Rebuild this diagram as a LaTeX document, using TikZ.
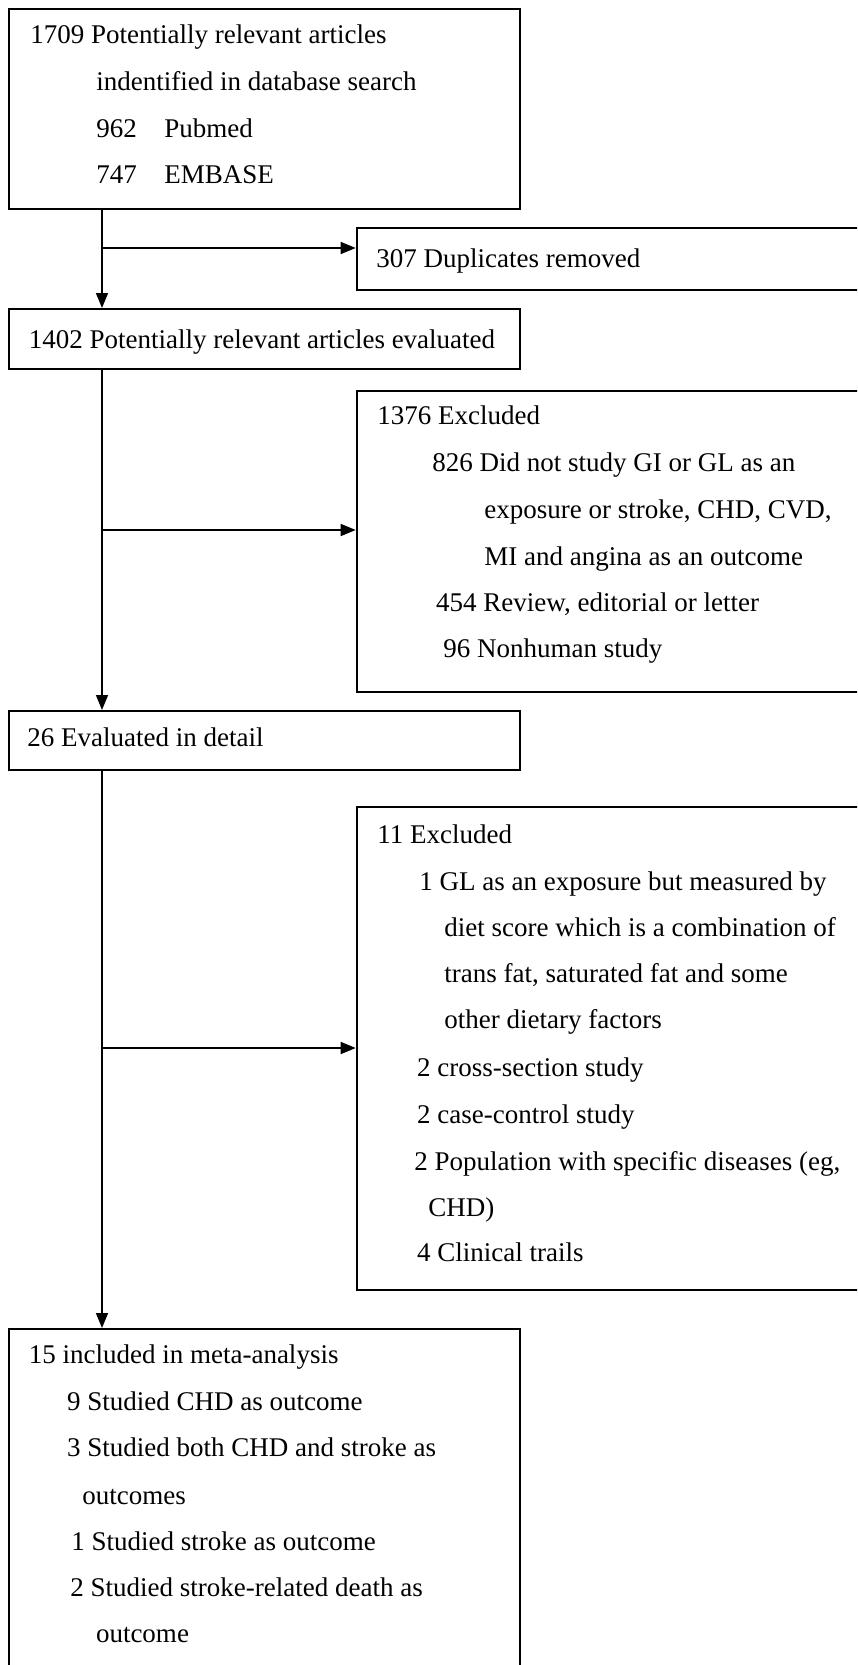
\documentclass[tikz,border=0pt]{standalone}
\usepackage{fontspec}
\setmainfont{Liberation Serif}
\usetikzlibrary{arrows.meta,fit}
\tikzset{
  box/.style={draw, line width=1pt, inner sep=0pt, rectangle},
  arr/.style={-{Triangle[length=7.5pt,width=6pt]}, line width=0.8pt},
  txt/.style={anchor=base west, inner sep=0pt, font=\fontsize{13.5pt}{16pt}\selectfont},
}
\begin{document}
\begin{tikzpicture}[x=0.5pt,y=-0.5pt]
\useasboundingbox (0,0) rectangle (857,1665);
\clip (0,0) rectangle (857,1665);
% boxes
\node[box, fit={(9.3,9) (520,209)}] (b1) {};
\node[box, fit={(356.7,228) (870,290)}] (dup) {};
\node[box, fit={(9.3,309) (520,369)}] (b2) {};
\node[box, fit={(356.7,391) (870,692)}] (ex1) {};
\node[box, fit={(9.3,711) (520,770)}] (b3) {};
\node[box, fit={(356.7,807) (870,1290)}] (ex2) {};
\node[box, fit={(9.3,1329) (519.5,1700)}] (b4) {};
% trunk and junctions
\coordinate (t) at (102,0);
\coordinate (j1) at (102,248);
\coordinate (j2) at (102,530);
\coordinate (j3) at (102,1048);
\draw[arr] (t |- b1.south) -- (t |- b2.north);
\draw[arr] (t |- b2.south) -- (t |- b3.north);
\draw[arr] (t |- b3.south) -- (t |- b4.north);
\draw[arr] (j1) -- (j1 -| dup.west);
\draw[arr] (j2) -- (j2 -| ex1.west);
\draw[arr] (j3) -- (j3 -| ex2.west);
% box 1 text
\node[txt] (t1a) at (30,43.3) {1709 Potentially relevant articles};
\node[txt] (t1b) at (96,90) {indentified in database search};
\node[txt] (t1c) at (96,137) {\makebox[34pt][l]{962}Pubmed};
\node[txt] (t1d) at (96,183) {\makebox[34pt][l]{747}EMBASE};
% duplicates
\node[txt] (td) at (376,267) {307 Duplicates removed};
% box 2
\node[txt] (t2) at (28.4,348) {1402 Potentially relevant articles evaluated};
% excluded 1
\node[txt] (e1a) at (377,424) {1376 Excluded};
\node[txt] (e1b) at (432,471.7) {826 Did not study GI or GL as an};
\node[txt] (e1c) at (484,518) {exposure or stroke, CHD, CVD,};
\node[txt] (e1d) at (484,565) {MI and angina as an outcome};
\node[txt] (e1e) at (435.7,611) {454 Review, editorial or letter};
\node[txt] (e1f) at (443,657.7) {96 Nonhuman study};
% box 3
\node[txt] (t3) at (27,746.7) {26 Evaluated in detail};
% excluded 2
\node[txt] (e2a) at (377,843.3) {11 Excluded};
\node[txt] (e2b) at (419,890) {1 GL as an exposure but measured by};
\node[txt] (e2c) at (444,936) {diet score which is a combination of};
\node[txt] (e2d) at (444,982) {trans fat, saturated fat and some};
\node[txt] (e2e) at (444,1028) {other dietary factors};
\node[txt] (e2f) at (416.7,1076) {2 cross-section study};
\node[txt] (e2g) at (416.7,1123) {2 case-control study};
\node[txt] (e2h) at (414,1170) {2 Population with specific diseases (eg,};
\node[txt] (e2i) at (428,1216.7) {CHD)};
\node[txt] (e2j) at (416.7,1261.7) {4 Clinical trails};
% box 4
\node[txt] (t4a) at (28.4,1363) {15 included in meta-analysis};
\node[txt] (t4b) at (66.7,1410) {9 Studied CHD as outcome};
\node[txt] (t4c) at (66.7,1456.7) {3 Studied both CHD and stroke as};
\node[txt] (t4d) at (82,1504) {outcomes};
\node[txt] (t4e) at (71,1550) {1 Studied stroke as outcome};
\node[txt] (t4f) at (70,1596.7) {2 Studied stroke-related death as};
\node[txt] (t4g) at (95.6,1642) {outcome};
\end{tikzpicture}
\end{document}
